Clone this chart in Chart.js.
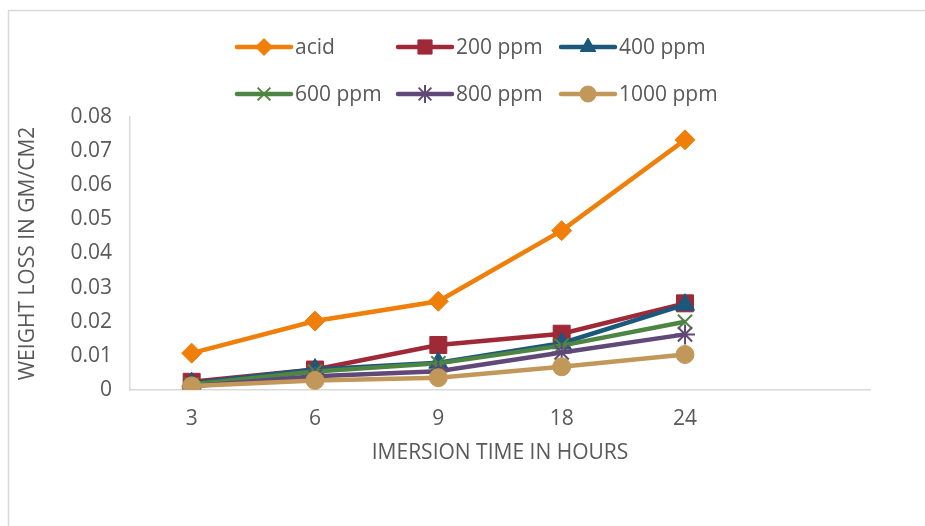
<!DOCTYPE html>
<html>
<head>
<meta charset="utf-8">
<script src="https://cdn.jsdelivr.net/npm/chart.js@4"></script>
<style>
html,body{margin:0;padding:0;background:#fff;}
#wrap{position:relative;width:925px;height:526px;}
canvas{display:block;}
</style>
</head>
<body>
<div id="wrap"><canvas id="c" width="925" height="526"></canvas></div>
<script>
const categories = ['3', '6', '9', '18', '24', ''];
const seriesNames = ['acid', '200 ppm', '400 ppm', '600 ppm', '800 ppm', '1000 ppm'];
const acid    = [0.0108, 0.0202, 0.0260, 0.0467, 0.0733];
const ppm200  = [0.0024, 0.0060, 0.0132, 0.0165, 0.0254];
const ppm400  = [0.0020, 0.0060, 0.0080, 0.0137, 0.0250];
const ppm600  = [0.0016, 0.0054, 0.0078, 0.0130, 0.0200];
const ppm800  = [0.0011, 0.0040, 0.0055, 0.0110, 0.0163];
const ppm1000 = [0.0012, 0.0028, 0.0036, 0.0068, 0.0104];
const yTicks = [0, 0.01, 0.02, 0.03, 0.04, 0.05, 0.06, 0.07, 0.08];

const colors = ['#F07F09', '#9F2936', '#1B587C', '#4E8542', '#604878', '#C19859'];
const styles = [
  {pointStyle: 'rectRot', radius: 10, bw: 1, legendR: 8.5},
  {pointStyle: 'rect', radius: 12, bw: 1, legendR: 10},
  {pointStyle: 'triangle', radius: 11, bw: 1, legendR: 9},
  {pointStyle: 'crossRot', radius: 10, bw: 2, legendR: 9},
  {pointStyle: 'star', radius: 10, bw: 2, legendR: 9},
  {pointStyle: 'circle', radius: 9, bw: 1, legendR: 8}
];
const allData = [acid, ppm200, ppm400, ppm600, ppm800, ppm1000];
const FONT = "'Open Sans', sans-serif";
const TXT = '#595959';
const FS = 21;

const datasets = allData.map((d, i) => ({
  label: seriesNames[i],
  data: d,
  borderColor: colors[i],
  backgroundColor: colors[i],
  borderWidth: 4.5,
  tension: 0,
  pointStyle: styles[i].pointStyle,
  pointRadius: styles[i].radius,
  pointHoverRadius: styles[i].radius,
  pointBorderWidth: styles[i].bw,
  pointBorderColor: colors[i],
  pointBackgroundColor: colors[i],
  order: 5 - i
}));

const legendPlugin = {
  id: 'customLegend',
  afterDraw(chart) {
    const ctx = chart.ctx;
    const cols = [237, 398, 561];
    const rows = [47, 94];
    ctx.save();
    chart.data.datasets.forEach((ds, i) => {
      const x0 = cols[i % 3], y = rows[Math.floor(i / 3)];
      ctx.strokeStyle = ds.borderColor;
      ctx.lineWidth = 4.5;
      ctx.lineCap = 'round';
      ctx.beginPath();
      ctx.moveTo(x0, y);
      ctx.lineTo(x0 + 54, y);
      ctx.stroke();
      ctx.fillStyle = ds.backgroundColor;
      ctx.lineWidth = ds.pointBorderWidth;
      ctx.lineCap = 'butt';
      Chart.helpers.drawPoint(ctx, {pointStyle: ds.pointStyle, radius: styles[i].legendR, rotation: 0, borderWidth: ds.pointBorderWidth}, x0 + 27, y);
      ctx.fillStyle = TXT;
      ctx.font = FS + "px " + FONT;
      ctx.textAlign = 'left';
      ctx.textBaseline = 'middle';
      ctx.fillText(ds.label, x0 + 58, y + 1);
    });
    // chart frame
    ctx.strokeStyle = '#d9d9d9';
    ctx.lineWidth = 1.5;
    ctx.lineCap = 'butt';
    ctx.beginPath();
    ctx.moveTo(8.5, 526);
    ctx.lineTo(8.5, 10.5);
    ctx.lineTo(925, 10.5);
    ctx.stroke();
    ctx.restore();
  }
};

new Chart(document.getElementById('c'), {
  type: 'line',
  data: {labels: categories, datasets},
  options: {
    responsive: false,
    animation: false,
    layout: {padding: {left: 10, right: 55, top: 117, bottom: 0}},
    plugins: {legend: {display: false}, tooltip: {enabled: false}},
    scales: {
      x: {
        offset: true,
        grid: {display: false, drawTicks: false},
        border: {display: true, color: '#d9d9d9', width: 1.5},
        ticks: {color: TXT, font: {family: FONT, size: FS}, padding: 16, autoSkip: false, maxRotation: 0},
        title: {display: true, text: 'IMERSION TIME IN HOURS', color: TXT, font: {family: FONT, size: FS}, padding: {top: 0, bottom: 60}},
        afterFit(s) { s.height = 136; }
      },
      y: {
        min: 0, max: 0.08,
        afterBuildTicks(s) { s.ticks = yTicks.map(v => ({value: v})); },
        grid: {display: false, drawTicks: false},
        border: {display: true, color: '#d9d9d9', width: 1.5},
        ticks: {color: TXT, font: {family: FONT, size: FS}, padding: 18,
          callback: v => String(Number(v.toFixed(2)))},
        title: {display: true, text: 'WEIGHT LOSS IN GM/CM2', color: TXT, font: {family: FONT, size: FS}, padding: {top: 5, bottom: 0}},
        afterFit(s) { s.width = 120; }
      }
    }
  },
  plugins: [legendPlugin]
});
</script>
</body>
</html>
